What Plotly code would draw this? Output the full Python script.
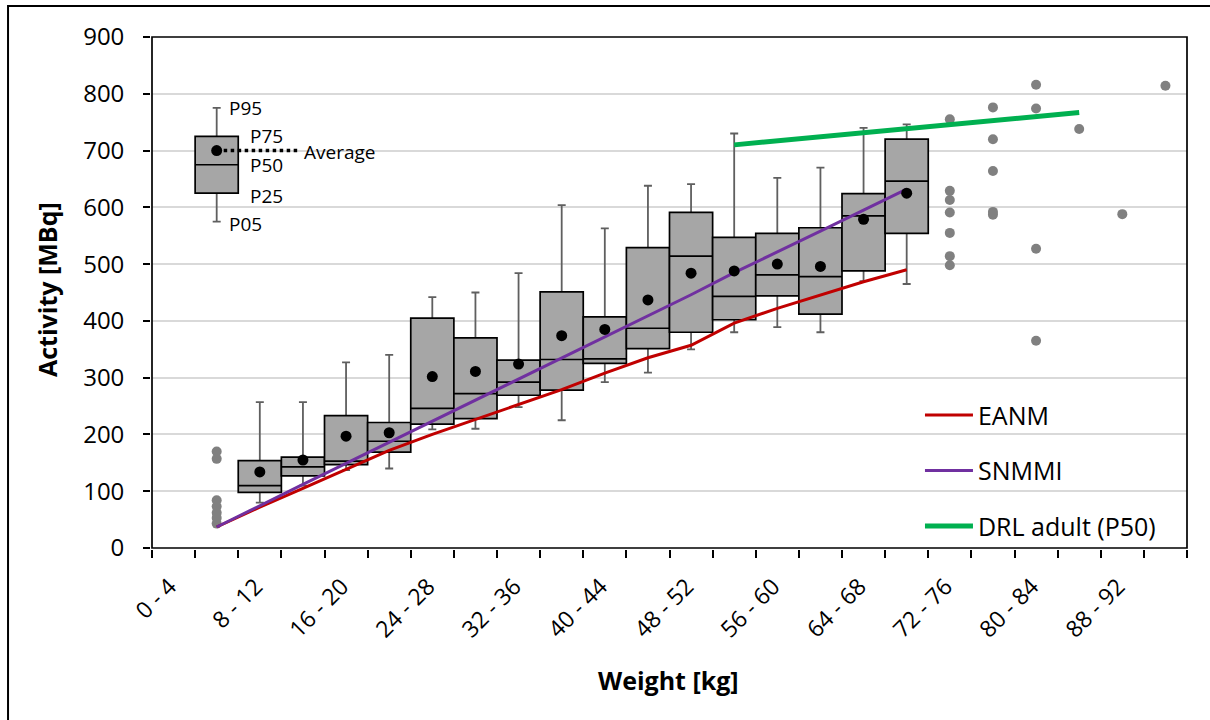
import plotly.graph_objects as go

# ---------------- data ----------------
categories = ["0 - 4", "4 - 8", "8 - 12", "12 - 16", "16 - 20", "20 - 24", "24 - 28", "28 - 32",
              "32 - 36", "36 - 40", "40 - 44", "44 - 48", "48 - 52", "52 - 56", "56 - 60", "60 - 64",
              "64 - 68", "68 - 72", "72 - 76", "76 - 80", "80 - 84", "84 - 88", "88 - 92", "92 - 96"]

box_cats = ["8 - 12", "12 - 16", "16 - 20", "20 - 24", "24 - 28", "28 - 32", "32 - 36", "36 - 40",
            "40 - 44", "44 - 48", "48 - 52", "52 - 56", "56 - 60", "60 - 64", "64 - 68", "68 - 72"]
p05 = [80, 110, 137, 140, 209, 210, 248, 225, 292, 309, 350, 380, 389, 380, 470, 465]
p25 = [98, 127, 147, 169, 218, 228, 269, 278, 325, 351, 380, 402, 444, 412, 488, 554]
p50 = [110, 143, 153, 188, 246, 272, 292, 332, 333, 387, 514, 443, 481, 478, 585, 646]
p75 = [154, 160, 233, 221, 405, 370, 331, 451, 407, 529, 591, 547, 554, 564, 624, 720]
p95 = [257, 257, 327, 340, 442, 450, 484, 604, 563, 638, 641, 730, 652, 670, 740, 746]
average = [134, 155, 197, 203, 302, 311, 324, 374, 385, 437, 484, 488, 500, 496, 579, 625]

line_cats = ["4 - 8", "8 - 12", "12 - 16", "16 - 20", "20 - 24", "24 - 28", "28 - 32", "32 - 36",
             "36 - 40", "40 - 44", "44 - 48", "48 - 52", "52 - 56", "56 - 60", "60 - 64", "64 - 68",
             "68 - 72"]
eanm = [37, 72, 105, 138, 172, 200, 226, 253, 279, 308, 335, 357, 396, 422, 446, 469, 490]
snmmi = [37, 75, 112, 149, 186, 223, 260, 297, 334, 372, 409, 446, 485, 521, 558, 595, 632]

drl_cats = ["52 - 56", "56 - 60", "60 - 64", "64 - 68", "68 - 72", "72 - 76", "76 - 80",
            "80 - 84", "84 - 88"]
drl_adult = [710, 717, 724, 731, 738, 745, 752, 760, 767]

outlier_cats = (["4 - 8"] * 7 + ["72 - 76"] * 7 + ["76 - 80"] * 5 + ["80 - 84"] * 4
                + ["84 - 88", "88 - 92", "92 - 96"])
outlier_vals = [170, 157, 84, 73, 62, 53, 43,
                755, 629, 613, 591, 555, 514, 498,
                776, 720, 664, 592, 587,
                816, 774, 527, 365,
                738, 588, 814]

# key (legend box drawn in the chart)
key_cat = "4 - 8"
key_p05, key_p25, key_p50, key_p75, key_p95, key_avg = 575, 625, 675, 725, 775, 700

y_ticks = [0, 100, 200, 300, 400, 500, 600, 700, 800, 900]
x_label_cats = categories[::2]

# ---------------- figure ----------------
idx = {c: i for i, c in enumerate(categories)}
bx = [idx[c] for c in box_cats]
FONT = "Open Sans"
fig = go.Figure()

# whiskers (below boxes)
fig.add_trace(go.Scatter(
    x=bx + [idx[key_cat]], y=p50 + [key_p50], mode="markers",
    marker=dict(size=1, opacity=0), showlegend=False, hoverinfo="skip", zorder=0,
    error_y=dict(type="data", symmetric=False,
                 array=[b - a for a, b in zip(p50, p95)] + [key_p95 - key_p50],
                 arrayminus=[a - b for a, b in zip(p50, p05)] + [key_p50 - key_p05],
                 color="#5f5f5f", thickness=1.8, width=4)))

# boxes
fig.add_trace(go.Box(
    x=bx + [idx[key_cat]], q1=p25 + [key_p25], median=p50 + [key_p50], q3=p75 + [key_p75],
    lowerfence=p25 + [key_p25], upperfence=p75 + [key_p75],
    width=1, whiskerwidth=0, fillcolor="#a6a6a6",
    line=dict(color="black", width=1.7), showlegend=False, hoverinfo="skip", zorder=1))

# outliers
fig.add_trace(go.Scatter(
    x=[idx[c] for c in outlier_cats], y=outlier_vals, mode="markers",
    marker=dict(color="#808080", size=10), showlegend=False, zorder=2))

# reference lines
fig.add_trace(go.Scatter(
    x=[idx[c] for c in line_cats], y=eanm, mode="lines", name="EANM",
    line=dict(color="#c00000", width=3), legendgroup="a", zorder=3))
fig.add_trace(go.Scatter(
    x=[idx[c] for c in line_cats], y=snmmi, mode="lines", name="SNMMI",
    line=dict(color="#7030a0", width=3), legendgroup="b", zorder=3))
fig.add_trace(go.Scatter(
    x=[idx[c] for c in drl_cats], y=drl_adult, mode="lines", name="DRL adult (P50)",
    line=dict(color="#00b050", width=5), legendgroup="c", zorder=3))

# key dotted line to "Average"
fig.add_trace(go.Scatter(
    x=[idx[key_cat], idx[key_cat] + 1.93], y=[key_avg, key_avg], mode="lines",
    line=dict(color="black", width=3.5, dash="dot"), showlegend=False, zorder=3))

# averages
fig.add_trace(go.Scatter(
    x=bx + [idx[key_cat]], y=average + [key_avg], mode="markers",
    marker=dict(color="black", size=11), showlegend=False, zorder=4))

# key annotations
kx = idx[key_cat]
key_labels = [("P95", kx + 0.24, key_p95), ("P75", kx + 0.72, key_p75),
              ("P50", kx + 0.72, key_p50), ("P25", kx + 0.72, key_p25 - 5),
              ("P05", kx + 0.24, key_p05 - 5), ("Average", kx + 1.98, key_avg - 3)]
for txt, xx, yy in key_labels:
    fig.add_annotation(x=xx, y=yy, text=txt, showarrow=False, xanchor="left", yanchor="middle",
                       font=dict(family=FONT, size=19, color="black"))

# axis titles
fig.add_annotation(xref="paper", yref="paper", x=-0.1014, y=0.505, text="<b>Activity [MBq]</b>",
                   textangle=-90, showarrow=False, xanchor="center", yanchor="middle",
                   font=dict(family=FONT, size=25, color="black"))
fig.add_annotation(xref="paper", yref="paper", x=0.4986, y=-0.258, text="<b>Weight [kg]</b>",
                   showarrow=False, xanchor="center", yanchor="middle",
                   font=dict(family=FONT, size=25, color="black"))

# plot-area frame
fig.add_shape(type="rect", xref="paper", yref="paper", x0=0, x1=1, y0=0, y1=1,
              line=dict(color="black", width=1.7), layer="above")
# outer frame
fig.add_shape(type="rect", xref="paper", yref="paper", x0=-0.1391, x1=1.2, y0=-0.6, y1=1.0607,
              line=dict(color="black", width=2), layer="below")

fig.update_layout(
    width=1210, height=720,
    margin=dict(l=152, r=23, t=37, b=172),
    paper_bgcolor="white", plot_bgcolor="white",
    boxmode="overlay",
    font=dict(family=FONT, size=22, color="black"),
    legend=dict(x=0.742, y=0.305, xanchor="left", yanchor="top", itemwidth=48,
                font=dict(family=FONT, size=25, color="black"),
                bgcolor="rgba(0,0,0,0)", tracegroupgap=20, traceorder="grouped"),
    xaxis=dict(range=[-0.5, len(categories) - 0.5], tickmode="array",
               tickvals=[idx[c] for c in x_label_cats], ticktext=x_label_cats,
               tickangle=-45, ticks="", showgrid=False, zeroline=False,
               showline=True, linecolor="black", linewidth=1.7, mirror=True,
               ticklabelshift=-4, ticklabelstandoff=14,
               tickfont=dict(family=FONT, size=23, color="black"),
               minor=dict(tickmode="array", tickvals=[i - 0.5 for i in range(len(categories) + 1)],
                          ticks="outside", ticklen=8, tickwidth=1.7, tickcolor="black",
                          showgrid=False)),
    yaxis=dict(range=[0, 900], tickmode="array", tickvals=y_ticks,
               ticks="outside", ticklen=7, tickwidth=1.7, tickcolor="black",
               showgrid=True, gridcolor="#d9d9d9", gridwidth=1.6, zeroline=False,
               showline=True, linecolor="black", linewidth=1.7, mirror=True,
               ticklabelstandoff=14,
               tickfont=dict(family=FONT, size=24, color="black")),
    showlegend=True,
)

fig.write_html("out.html")
